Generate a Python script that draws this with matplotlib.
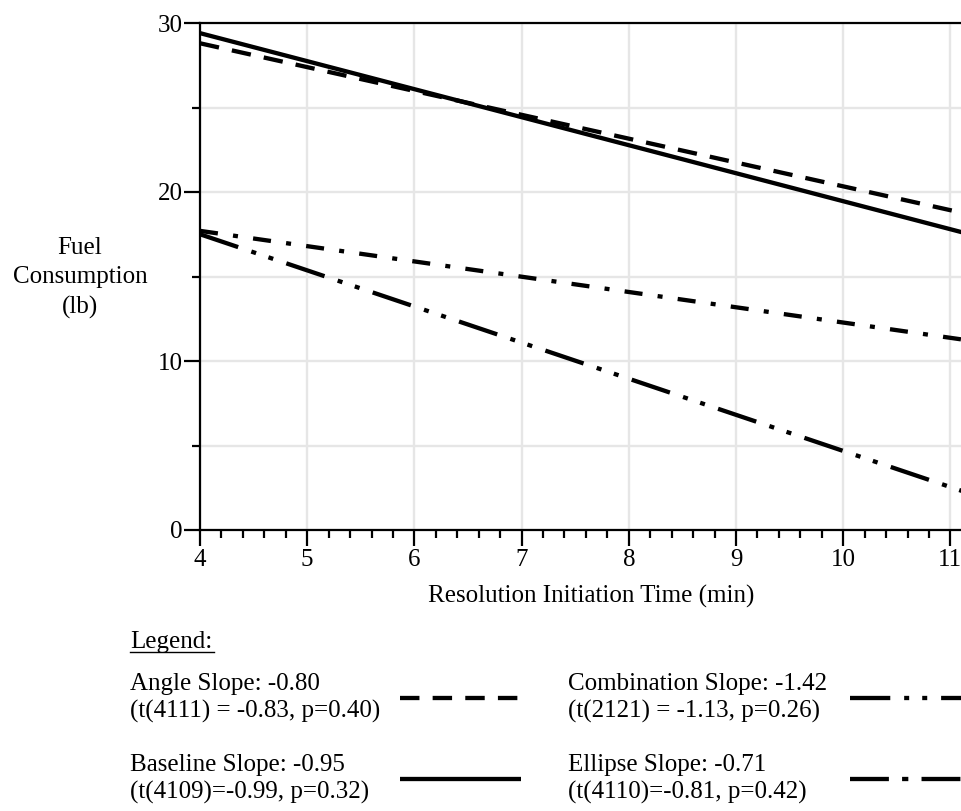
import matplotlib
matplotlib.use("Agg")
import matplotlib.pyplot as plt
from matplotlib.lines import Line2D
from matplotlib.ticker import MultipleLocator

plt.rcParams["font.family"] = "Liberation Serif"
plt.rcParams["lines.scale_dashes"] = False

# regression lines: value at x=4 and at x=11.3 min
x_ends = [4.0, 11.3]
angle = [28.8, 18.5]
baseline = [29.4, 17.3]
combination = [17.5, 1.9]
ellipse = [17.7, 11.1]

labels = {
    "angle": "Angle Slope: -0.80\n(t(4111) = -0.83, p=0.40)",
    "baseline": "Baseline Slope: -0.95\n(t(4109)=-0.99, p=0.32)",
    "combination": "Combination Slope: -1.42\n(t(2121) = -1.13, p=0.26)",
    "ellipse": "Ellipse Slope: -0.71\n(t(4110)=-0.81, p=0.42)",
}

lw = 3.1
styles = {
    "angle": dict(color="black", lw=lw, dashes=(14, 9.5), dash_capstyle="butt"),
    "baseline": dict(color="black", lw=lw, linestyle="-", solid_capstyle="butt"),
    "combination": dict(color="black", lw=lw, dashes=(29, 10, 3.6, 9.4, 3.6, 10), dash_capstyle="butt"),
    "ellipse": dict(color="black", lw=lw, dashes=(13, 11, 3.6, 11), dash_capstyle="butt"),
}
# the legend key for Ellipse is drawn with longer dashes than the plotted line
legend_styles = dict(styles)
legend_styles["ellipse"] = dict(styles["ellipse"], dashes=(28, 9.5, 4.5, 9.5))

FS = 18
W, H = 962, 811
xmax = 11.3
px_per_min = 107.2

fig = plt.figure(figsize=(W / 100, H / 100), dpi=100)
# plot area runs past the right edge of the figure, as in the original
ax = fig.add_axes([200 / W, 1 - 530 / H, (xmax - 4) * px_per_min / W, (530 - 23) / H])

ax.plot(x_ends, angle, **styles["angle"])
ax.plot(x_ends, baseline, **styles["baseline"])
ax.plot(x_ends, combination, **styles["combination"])
ax.plot(x_ends, ellipse, **styles["ellipse"])

ax.set_xlim(4, xmax)
ax.set_ylim(0, 30)
ax.xaxis.set_major_locator(MultipleLocator(1))
ax.xaxis.set_minor_locator(MultipleLocator(0.2))
ax.yaxis.set_major_locator(MultipleLocator(10))
ax.yaxis.set_minor_locator(MultipleLocator(5))
ax.grid(True, which="major", axis="x", color="#e6e6e6", lw=1.7)
ax.grid(True, which="both", axis="y", color="#e6e6e6", lw=1.7)
ax.set_axisbelow(True)

for s in ["left", "bottom", "top", "right"]:
    ax.spines[s].set_linewidth(1.6)
ax.tick_params(which="major", length=11.5, width=1.6, labelsize=FS, direction="out")
ax.tick_params(which="minor", length=6, width=1.6, direction="out")
ax.tick_params(axis="x", which="major", pad=2)
ax.tick_params(axis="y", which="major", pad=1)

ax.set_xlabel("Resolution Initiation Time (min)", fontsize=FS, labelpad=10)
fig.text(80 / W, 1 - 278 / H, "Fuel\nConsumption\n(lb)", fontsize=FS,
         ha="center", va="center", linespacing=1.45)

# legend
fig.text(130 / W, 1 - 642 / H, "Legend:", fontsize=FS, ha="left", va="center")
fig.add_artist(Line2D([130 / W, 214 / W], [1 - 652 / H] * 2, color="black", lw=1.0,
                      transform=fig.transFigure))

entries = [
    ("angle", 130, 400, 698),
    ("baseline", 130, 400, 779),
    ("combination", 568, 850, 698),
    ("ellipse", 568, 850, 779),
]
for key, tx, lx, cy in entries:
    fig.text(tx / W, 1 - cy / H, labels[key], fontsize=FS, ha="left", va="center",
             linespacing=1.25)
    fig.add_artist(Line2D([lx / W, (lx + 121) / W], [1 - cy / H] * 2,
                          transform=fig.transFigure, **legend_styles[key]))

fig.savefig("out.png", dpi=100)
